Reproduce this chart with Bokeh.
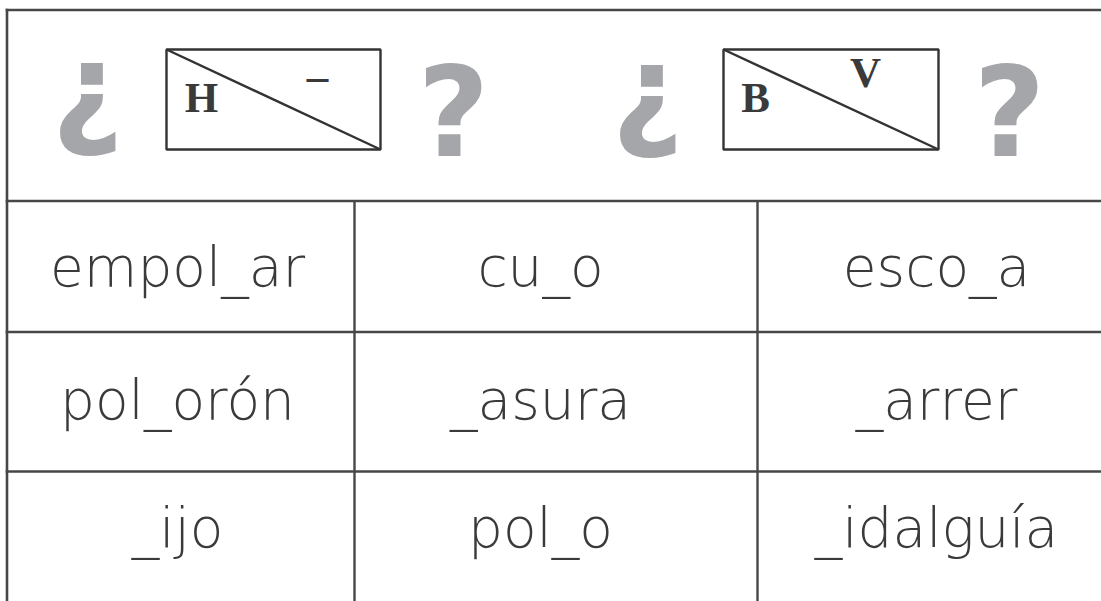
from bokeh.plotting import figure
from bokeh.models import Range1d
from bokeh.core.properties import value
from bokeh.embed import file_html
from bokeh.resources import INLINE

# ---- data ----
words_row1 = ["empol_ar", "cu_o", "esco_a"]
words_row2 = ["pol_orón", "_asura", "_arrer"]
words_row3 = ["_ijo", "pol_o", "_idalguía"]
box_left_letters = ["H", "B"]
box_right_letters = ["–", "V"]
open_marks = ["¿", "¿"]
close_marks = ["?", "?"]

# ---- layout (page pixel coordinates, y downwards) ----
W, H = 1101, 601
col_centers = [177, 540, 936]
word_size = 55
row_baselines = [289, 422, 550]
col_lines = [354, 757]
row_lines = [331.5, 471]
header_bottom = 200.5
top_y = 9.5
left_x = 6.5
box_l = [166, 723]
box_r = [380, 938]
box_t, box_b = 49, 149
shift = 0.41  # baseline correction (em) for the svg text rendering

LINE = "#474747"
INK = "#3a3a3a"
GRAY = "#a5a6a9"

p = figure(width=W, height=H, x_range=Range1d(0, W), y_range=Range1d(H, 0),
           output_backend="svg", toolbar_location=None, min_border=0)
p.axis.visible = False
p.grid.visible = False
p.outline_line_color = None
p.background_fill_color = "white"
p.border_fill_color = "white"

# grid lines
x_start = left_x - 1.3
p.segment(x0=[x_start, left_x, x_start, x_start, x_start],
          y0=[top_y, top_y - 1.3, header_bottom, row_lines[0], row_lines[1]],
          x1=[W, left_x, W, W, W], y1=[top_y, H, header_bottom, row_lines[0], row_lines[1]],
          line_color=LINE, line_width=2.6)
p.segment(x0=col_lines, y0=[header_bottom] * 2, x1=col_lines, y1=[H] * 2,
          line_color=LINE, line_width=2.4)

# boxes with diagonals
p.quad(left=box_l, right=box_r, top=[box_t] * 2, bottom=[box_b] * 2,
       fill_color=None, line_color="#333333", line_width=2.4)
p.segment(x0=box_l, y0=[box_t] * 2, x1=box_r, y1=[box_b] * 2,
          line_color="#333333", line_width=2.4)

serif = value("Liberation Serif")
p.text(x=[201, 755], y=[97, 97], text=box_left_letters, text_font=serif,
       text_font_style="bold", text_font_size="43px", text_align="center",
       text_baseline="alphabetic", text_color=INK)
p.text(x=[317, 865], y=[75, 72], text=box_right_letters, text_font=serif,
       text_font_style="bold", text_font_size="43px", text_align="center",
       text_baseline="alphabetic", text_color=INK)

# question marks
qf = value("DejaVu Sans")
p.text(x=[87, 647], y=[87, 89], text=open_marks, text_font=qf, text_font_style="bold",
       text_font_size="124px", text_align="center", text_baseline="alphabetic", text_color=GRAY)
p.text(x=[453, 1009], y=[112, 112], text=close_marks, text_font=qf, text_font_style="bold",
       text_font_size="124px", text_align="center", text_baseline="alphabetic", text_color=GRAY)

# words
wf = value("DejaVu Sans Light, DejaVu Sans")
for words, base in zip([words_row1, words_row2, words_row3], row_baselines):
    p.text(x=col_centers, y=[base - shift * word_size] * 3, text=words, text_font=wf,
           text_font_size=f"{word_size}px", text_align="center", text_baseline="alphabetic",
           text_color=INK)

open("out.html", "w").write(file_html(p, INLINE))
